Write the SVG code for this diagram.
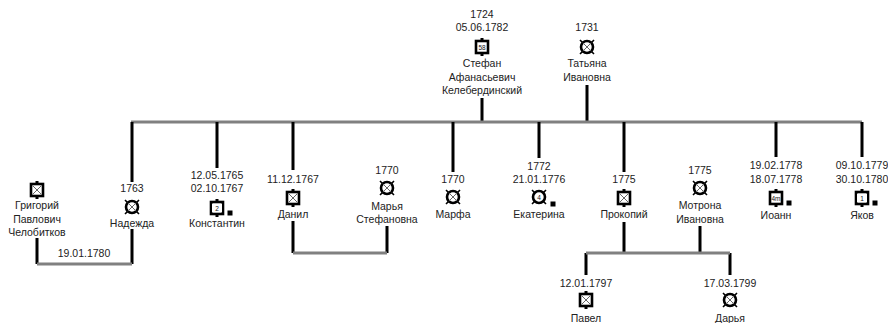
<svg xmlns="http://www.w3.org/2000/svg" width="888" height="323" viewBox="0 0 888 323">
<style>
text{font-family:"Liberation Sans",Arial,sans-serif;font-size:10.5px;fill:#222;text-anchor:middle}
.n{font-size:6.5px;fill:#111}
.v{stroke:#000;stroke-width:3;fill:none}
.h{stroke:#808080;stroke-width:3;fill:none}
.ib{fill:#fff;stroke:#000;stroke-width:2.6}
.ix{stroke:#666;stroke-width:1}
.tk{stroke:#000;stroke-width:1.6}
</style>
<defs>
<g id="m">
<rect x="-1.5" y="-9" width="3" height="3" fill="#000"/>
<rect x="-1.5" y="6" width="3" height="3" fill="#000"/>
<rect class="ib" x="-6" y="-6" width="12" height="12"/>
<path class="ix" d="M-4.5-4.5L4.5 4.5M4.5-4.5L-4.5 4.5"/>
</g>
<g id="mb">
<rect x="-1.5" y="-9" width="3" height="3" fill="#000"/>
<rect x="-1.5" y="6" width="3" height="3" fill="#000"/>
<rect class="ib" x="-6" y="-6" width="12" height="12"/>
</g>
<g id="f">
<path class="tk" d="M-7-7L-4.5-4.5M7-7L4.5-4.5M-7 7L-4.5 4.5M7 7L4.5 4.5"/>
<circle class="ib" r="6"/>
<path class="ix" d="M-4.2-4.2L4.2 4.2M4.2-4.2L-4.2 4.2"/>
</g>
<g id="fb">
<path class="tk" d="M-7-7L-4.5-4.5M7-7L4.5-4.5M-7 7L-4.5 4.5M7 7L4.5 4.5"/>
<circle class="ib" r="6"/>
</g>
<rect id="sq" x="-2.5" y="-2.5" width="5" height="5" fill="#000"/>
</defs>
<g id="connectors">
<path class="v" d="M482 98V122M587 85V122"/>
<path class="h" d="M131 122H862"/>
<path class="v" d="M132 122V182M217 122V168M293 122V170M453 122V172M539 122V158M624 122V172M776 122V157M862 122V157"/>
<path class="v" d="M37 238V264M132 229V264"/>
<path class="h" d="M37 264H132"/>
<path class="v" d="M293 221V253M387 226V253"/>
<path class="h" d="M293 253H387"/>
<path class="v" d="M624 222V253M700 226V253M586 253V275M730 253V275"/>
<path class="h" d="M586 253H730"/>
</g>
<g id="marriage-label"><text x="84" y="257">19.01.1780</text></g>
<g id="stefan"><text x="482" y="18">1724</text><text x="482" y="31">05.06.1782</text><use href="#mb" x="482" y="47"/><text class="n" x="482" y="49.5">58</text><text x="482" y="67">Стефан</text><text x="482" y="81">Афанасьевич</text><text x="482" y="94">Келебердинский</text></g>
<g id="tatyana"><text x="587" y="31">1731</text><use href="#f" x="587" y="47"/><text x="587" y="67">Татьяна</text><text x="587" y="81">Ивановна</text></g>
<g id="grigoriy"><use href="#m" x="37" y="190"/><text x="37" y="209">Григорий</text><text x="37" y="223">Павлович</text><text x="37" y="236">Челобитков</text></g>
<g id="nadezhda"><text x="132" y="192">1763</text><use href="#f" x="132" y="207"/><text x="132" y="227">Надежда</text></g>
<g id="konstantin"><text x="217" y="179">12.05.1765</text><text x="217" y="192">02.10.1767</text><use href="#m" x="217" y="208"/><rect x="212" y="204" width="10" height="8" fill="#fff"/><text class="n" x="217" y="210.5">2</text><use href="#sq" x="230" y="213"/><text x="217" y="227">Константин</text></g>
<g id="danil"><text x="293" y="183">11.12.1767</text><use href="#m" x="293" y="198"/><text x="293" y="218">Данил</text></g>
<g id="marya"><text x="387" y="174">1770</text><use href="#f" x="387" y="188"/><text x="387" y="210">Марья</text><text x="387" y="223">Стефановна</text></g>
<g id="marfa"><text x="453" y="183">1770</text><use href="#f" x="453" y="197"/><text x="453" y="218">Марфа</text></g>
<g id="ekaterina"><text x="539" y="170">1772</text><text x="539" y="183">21.01.1776</text><use href="#fb" x="539" y="197"/><text class="n" x="539" y="199.5">4</text><use href="#sq" x="553" y="204"/><text x="539" y="218">Екатерина</text></g>
<g id="prokopiy"><text x="624" y="183">1775</text><use href="#m" x="624" y="198"/><text x="624" y="218">Прокопий</text></g>
<g id="motrona"><text x="700" y="174">1775</text><use href="#f" x="700" y="188"/><text x="700" y="209">Мотрона</text><text x="700" y="223">Ивановна</text></g>
<g id="ioann"><text x="776" y="169">19.02.1778</text><text x="776" y="183">18.07.1778</text><use href="#mb" x="776" y="198"/><text class="n" x="776" y="200.5">4m</text><use href="#sq" x="789" y="203"/><text x="776" y="219">Иоанн</text></g>
<g id="yakov"><text x="862" y="169">09.10.1779</text><text x="862" y="183">30.10.1780</text><use href="#m" x="862" y="198"/><rect x="857" y="194" width="10" height="8" fill="#fff"/><text class="n" x="862" y="200.5">1</text><use href="#sq" x="875" y="203"/><text x="862" y="219">Яков</text></g>
<g id="pavel"><text x="586" y="287">12.01.1797</text><use href="#m" x="586" y="300"/><text x="586" y="322">Павел</text></g>
<g id="darya"><text x="730" y="287">17.03.1799</text><use href="#f" x="730" y="300"/><text x="730" y="322">Дарья</text></g>
</svg>
